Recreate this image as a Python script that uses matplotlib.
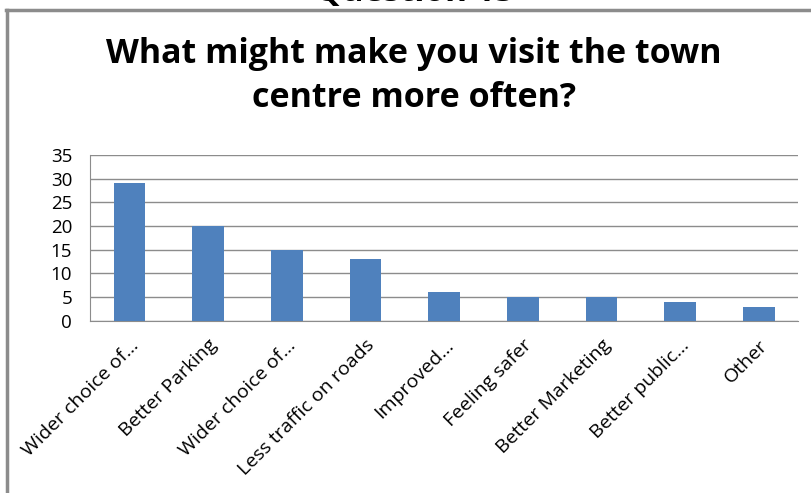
import matplotlib.pyplot as plt

# survey answers
categories = ['Wider choice of...', 'Better Parking', 'Wider choice of...',
              'Less traffic on roads', 'Improved...', 'Feeling safer',
              'Better Marketing', 'Better public...', 'Other']
counts = [29, 20, 15, 13, 6, 5, 5, 4, 3]
yticks = [0, 5, 10, 15, 20, 25, 30, 35]

plt.rcParams['font.family'] = ['Open Sans', 'DejaVu Sans']

fig = plt.figure(figsize=(8.12, 4.93), dpi=100)
ax = fig.add_axes([0.111, 0.349, 0.872, 0.337])

x = range(len(categories))
ax.bar(x, counts, width=0.4, color='#4F81BD', zorder=3)

ax.set_xlim(-0.5, len(categories) - 0.5)
ax.set_ylim(0, 35)
ax.set_yticks(yticks)
ax.set_yticklabels([str(t) for t in yticks], fontsize=13.5)
ax.grid(axis='y', color='#8c8c8c', linewidth=1, zorder=0)
ax.set_xticks(list(x))
ax.set_xticklabels(categories, rotation=45, ha='right', rotation_mode='anchor', fontsize=14)
ax.tick_params(axis='x', length=0, pad=11)
ax.tick_params(axis='y', length=0, pad=13)

for s in ['top', 'right']:
    ax.spines[s].set_visible(False)
for s in ['left', 'bottom']:
    ax.spines[s].set_color('#8c8c8c')

# title and the cut off heading above the frame
fig.text(0.51, 0.845, 'What might make you visit the town\ncentre more often?',
         ha='center', va='center', fontsize=24.5, fontweight='bold', linespacing=1.38)
fig.text(0.51, 0.997, 'Question 13', ha='center', va='baseline', fontsize=24, fontweight='bold')

# chart border (only top and left visible)
fig.add_artist(plt.Line2D([0.008, 1], [0.979, 0.979], color='#8c8c8c', linewidth=2.5))
fig.add_artist(plt.Line2D([0.009, 0.009], [0, 0.979], color='#8c8c8c', linewidth=2.5))

fig.savefig('out.png', dpi=100)
